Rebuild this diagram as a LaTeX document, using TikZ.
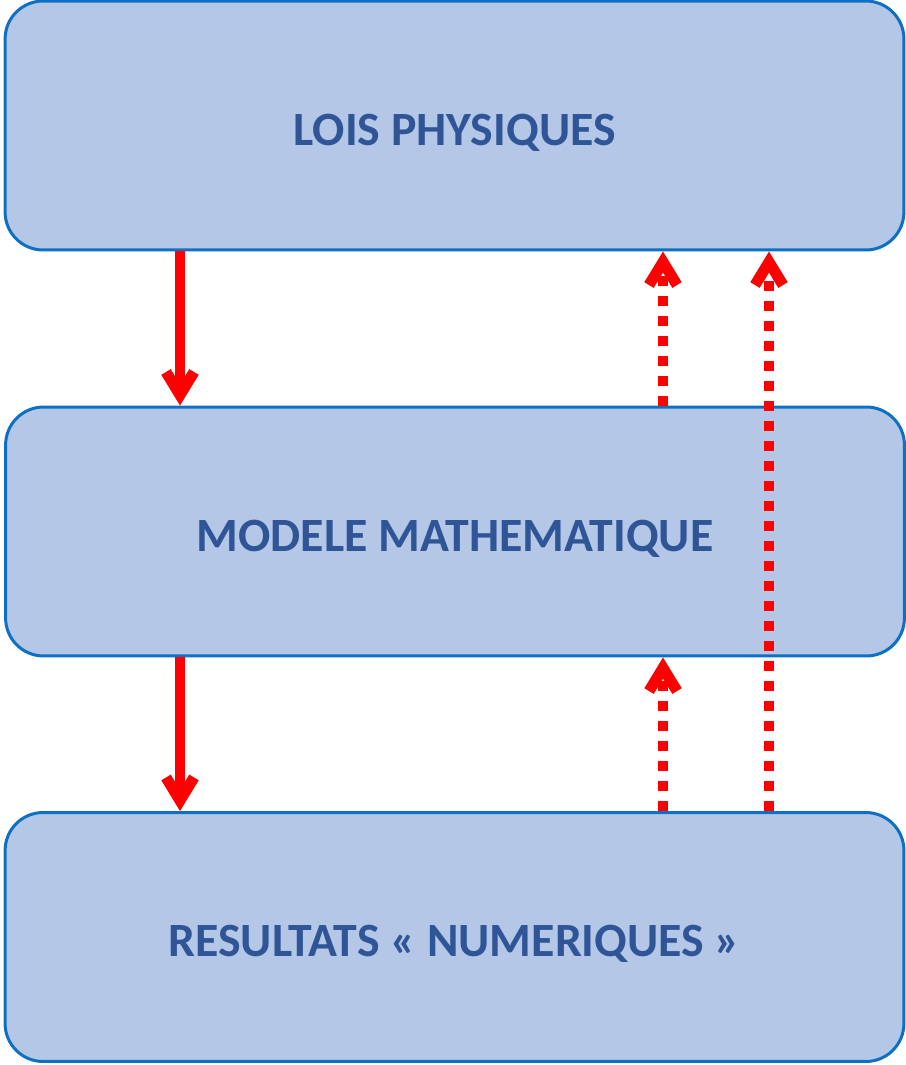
\documentclass[tikz,border=0pt]{standalone}
\usepackage{fontspec}
\setmainfont{Carlito}
\usepackage{xcolor}
\usetikzlibrary{arrows.meta, positioning, calc}

\definecolor{boxfill}{HTML}{B4C7E7}
\definecolor{boxline}{HTML}{0E70C4}
\definecolor{boxtext}{HTML}{2F5597}

\begin{document}
\begin{tikzpicture}[x=0.02cm, y=-0.02cm,
    box/.style={draw=boxline, line width=0.06cm, fill=boxfill, rounded corners=0.76cm,
      minimum width=17.98cm, minimum height=4.98cm, inner sep=0pt,
      text height=22.5pt, text depth=0pt,
      text=boxtext, font=\fontsize{27.2}{32}\selectfont\bfseries},
    head/.style={-{Straight Barb[length=0.46cm, width=0.56cm, line width=0.22cm, sharp]}},
    down/.style={red, line width=0.2cm, head},
    up/.style={red, line width=0.2cm, dash pattern=on 0.2cm off 0.2cm, head}]
  \useasboundingbox (0,0) rectangle (906,1065);
  % Boxes
  \node[box] (lois) at (454.5,125.5) {LOIS PHYSIQUES};
  \node[box] (modele) at (455,531.5) {MODELE MATHEMATIQUE};
  \node[box] (result) at (454.5,937) {RESULTATS « NUMERIQUES »};
  % Arrow columns
  \coordinate (xa) at (180,0);
  \coordinate (xb) at (663,0);
  \coordinate (xc) at (769,0);
  % Solid arrows
  \draw[down] (lois.south -| xa) -- (modele.north -| xa);
  \draw[down] (modele.south -| xa) -- (result.north -| xa);
  % Dotted arrows
  \draw[up] (modele.north -| xb) -- (lois.south -| xb);
  \draw[up] (result.north -| xb) -- (modele.south -| xb);
  \draw[up] (result.north -| xc) -- (lois.south -| xc);
\end{tikzpicture}
\end{document}
